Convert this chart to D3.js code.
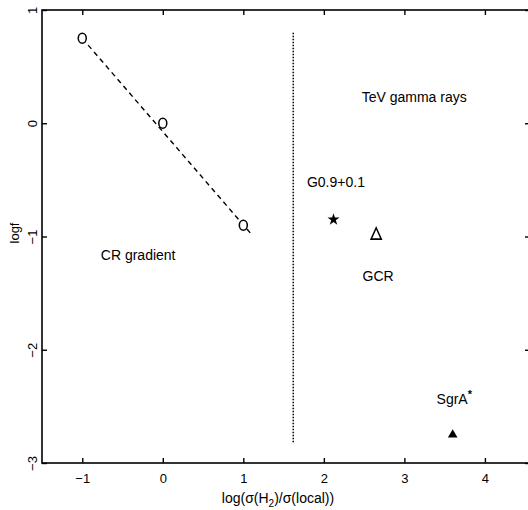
<!DOCTYPE html>
<html><head><meta charset="utf-8">
<script src="https://cdn.jsdelivr.net/npm/d3@7"></script>
<style>body{margin:0;background:#fff}svg{display:block}text{font-family:"Liberation Sans",Arial,Helvetica,sans-serif;fill:#000}</style>
</head><body><svg id="c" width="528" height="510"></svg>
<script>
const xTicks = [-1, 0, 1, 2, 3, 4];
const yTicks = [1, 0, -1, -2, -3];
const gradX = [-1, 0, 1];
const gradY = [0.75, 0, -0.9];
const gradLineX = [-1, 1.1];
const gradLineY = [0.75, -0.98];
const dividerX = 1.62;
const dividerY = [0.8, -2.83];
const g09 = [2.12, -0.85];
const gcr = [2.65, -0.99];
const sgra = [3.6, -2.75];
const labels = [
  {t: "TeV gamma rays", x: 2.47, y: 0.19},
  {t: "G0.9+0.1", x: 1.79, y: -0.56},
  {t: "CR gradient", x: -0.77, y: -1.21},
  {t: "GCR", x: 2.48, y: -1.39}
];
const sgraLabel = {x: 3.4, y: -2.48};

(function () {
const svg = d3.select("#c");
const x = d3.scaleLinear().domain([-1.5, 4.56]).range([42, 530]);
const y = d3.scaleLinear().domain([-3, 1]).range([463, 10]);

svg.append("rect").attr("x", 42).attr("y", 10).attr("width", 488).attr("height", 453)
  .attr("fill", "none").attr("stroke", "#000").attr("stroke-width", 1.6);

const fmt = d => d < 0 ? "\u2212" + Math.abs(d) : String(d);
const axB = svg.append("g").attr("transform", "translate(0,463)")
  .call(d3.axisBottom(x).tickValues(xTicks).tickSizeInner(-5).tickSizeOuter(0).tickPadding(11).tickFormat(fmt));
const axT = svg.append("g").attr("transform", "translate(0,10)")
  .call(d3.axisTop(x).tickValues(xTicks).tickSizeInner(-5).tickSizeOuter(0).tickFormat(""));
const axL = svg.append("g").attr("transform", "translate(42,0)")
  .call(d3.axisLeft(y).tickValues(yTicks).tickSizeInner(-5).tickSizeOuter(0).tickFormat(fmt));
const axR = svg.append("g").attr("transform", "translate(530,0)")
  .call(d3.axisRight(y).tickValues(yTicks).tickSizeInner(-5).tickSizeOuter(0).tickFormat(""));
[axB, axT, axL, axR].forEach(a => {
  a.select(".domain").remove();
  a.selectAll("line").attr("stroke", "#000").attr("stroke-width", 1.4);
  a.selectAll("text").attr("font-size", 13).attr("font-family", "Liberation Sans, Arial, sans-serif").attr("fill", "#000");
});
axL.selectAll(".tick text").attr("text-anchor", "middle").attr("dy", null).attr("x", null)
  .attr("dominant-baseline", "central").attr("transform", "translate(-10,0) rotate(-90)");

const xl = svg.append("text").attr("x", 278).attr("y", 503).attr("text-anchor", "middle").attr("font-size", 14);
xl.append("tspan").text("log(\u03c3(H");
xl.append("tspan").attr("font-size", 10).attr("dy", 4).text("2");
xl.append("tspan").attr("dy", -4).text(")/\u03c3(local))");
svg.append("text").attr("transform", "translate(19,233) rotate(-90)").attr("text-anchor", "middle")
  .attr("font-size", 13).text("logf");

svg.append("line").attr("x1", x(gradLineX[0])).attr("y1", y(gradLineY[0]))
  .attr("x2", x(gradLineX[1])).attr("y2", y(gradLineY[1]))
  .attr("stroke", "#000").attr("stroke-width", 1.4).attr("stroke-dasharray", "5,4");
svg.selectAll("ellipse.pt").data(gradX).enter().append("ellipse").attr("class", "pt")
  .attr("cx", d => x(d)).attr("cy", (d, i) => y(gradY[i])).attr("rx", 4).attr("ry", 5)
  .attr("fill", "#fff").attr("stroke", "#000").attr("stroke-width", 1.5);

svg.append("line").attr("x1", x(dividerX)).attr("x2", x(dividerX))
  .attr("y1", y(dividerY[0])).attr("y2", y(dividerY[1]))
  .attr("stroke", "#000").attr("stroke-width", 1.5).attr("stroke-dasharray", "1.5,1.5");

svg.append("path").attr("d", d3.symbol(d3.symbolStar, 45)())
  .attr("transform", `translate(${x(g09[0])},${y(g09[1])})`).attr("fill", "#000");
svg.append("path").attr("d", d3.symbol(d3.symbolTriangle, 55)())
  .attr("transform", `translate(${x(gcr[0])},${y(gcr[1])}) scale(0.9,1.15)`)
  .attr("fill", "none").attr("stroke", "#000").attr("stroke-width", 1.6);
svg.append("path").attr("d", d3.symbol(d3.symbolTriangle, 40)())
  .attr("transform", `translate(${x(sgra[0])},${y(sgra[1])})`).attr("fill", "#000");

svg.selectAll("text.lab").data(labels).enter().append("text").attr("class", "lab")
  .attr("x", d => x(d.x)).attr("y", d => y(d.y)).attr("font-size", 14).text(d => d.t);
const sl = svg.append("text").attr("x", x(sgraLabel.x)).attr("y", y(sgraLabel.y)).attr("font-size", 14);
sl.append("tspan").text("SgrA");
sl.append("tspan").attr("font-size", 11).attr("font-weight", "bold").attr("dy", -6).text("*");
})();
</script></body></html>
